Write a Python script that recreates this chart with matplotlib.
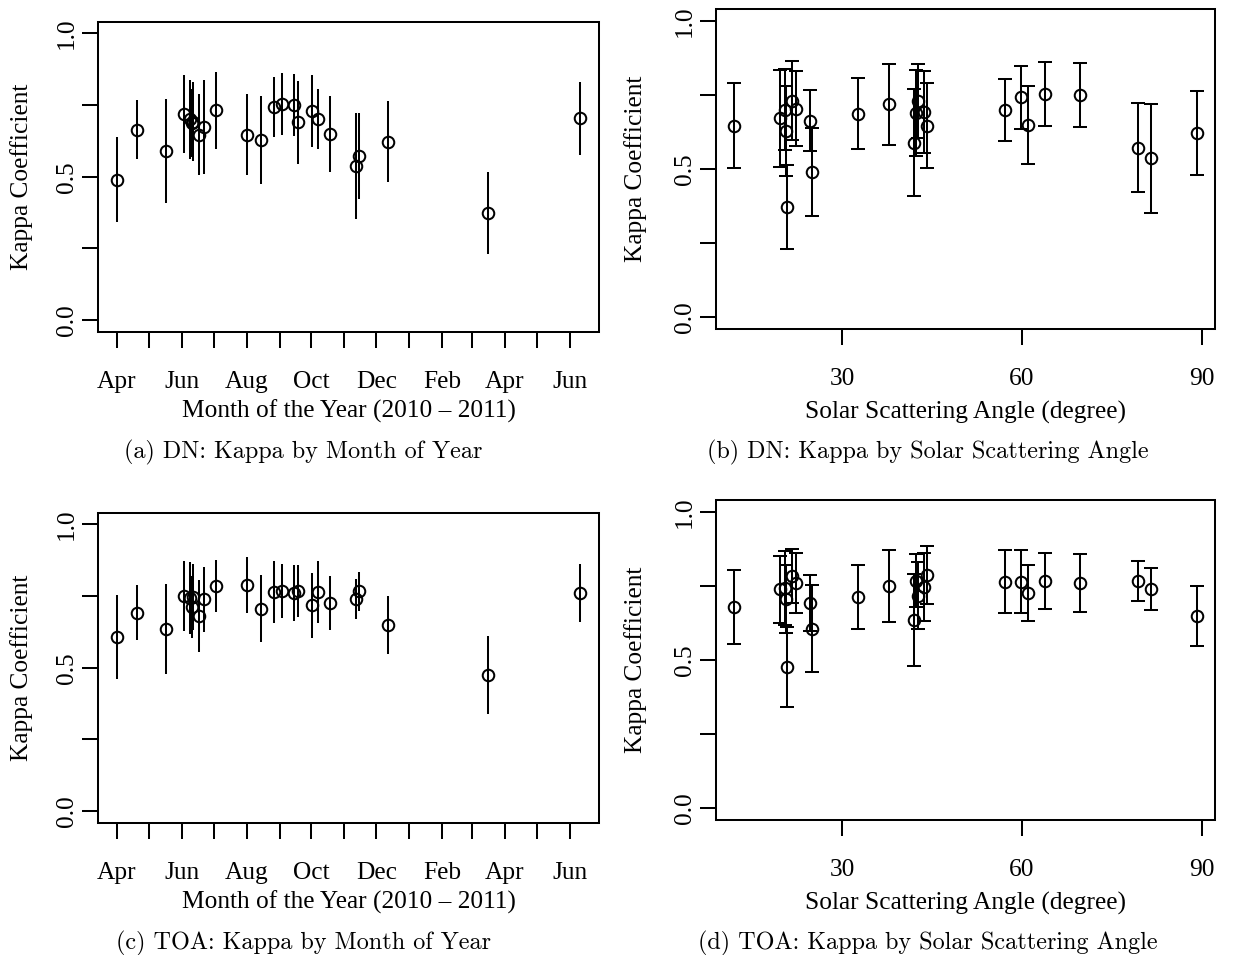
import matplotlib
matplotlib.use("Agg")
import matplotlib.pyplot as plt
import matplotlib.dates as mdates
import numpy as np
from datetime import date

plt.rcParams["font.family"] = ["Liberation Serif", "DejaVu Serif"]

# ---- per-scene kappa statistics (2010 - 2011) ----
scene_dates = ["2010-04-01", "2010-04-20", "2010-05-17", "2010-06-03", "2010-06-09",
               "2010-06-11", "2010-06-12", "2010-06-17", "2010-06-22", "2010-07-03",
               "2010-08-01", "2010-08-15", "2010-08-27", "2010-09-03", "2010-09-15",
               "2010-09-18", "2010-10-02", "2010-10-07", "2010-10-18", "2010-11-12",
               "2010-11-15", "2010-12-12", "2011-03-16", "2011-06-11"]
scatter_angle = [24.94, 24.60, 41.96, 37.79, 20.48, 32.56, 43.69, 11.97, 19.54, 21.54,
                 44.13, 20.60, 59.77, 63.89, 69.73, 42.35, 42.69, 57.16, 61.05, 81.53,
                 79.42, 89.15, 20.76, 22.32]
dn_kappa = [0.490, 0.663, 0.589, 0.719, 0.700, 0.687, 0.692, 0.647, 0.672, 0.731,
            0.647, 0.629, 0.742, 0.753, 0.750, 0.690, 0.730, 0.700, 0.648, 0.537,
            0.572, 0.622, 0.373, 0.704]
dn_ci = [0.148, 0.103, 0.181, 0.137, 0.137, 0.120, 0.138, 0.142, 0.164, 0.134,
         0.142, 0.153, 0.105, 0.107, 0.109, 0.145, 0.125, 0.105, 0.132, 0.184,
         0.150, 0.141, 0.142, 0.127]
toa_kappa = [0.606, 0.692, 0.635, 0.750, 0.742, 0.711, 0.745, 0.680, 0.738, 0.785,
             0.787, 0.706, 0.764, 0.767, 0.761, 0.768, 0.717, 0.764, 0.727, 0.739,
             0.766, 0.649, 0.476, 0.759]
toa_ci = [0.146, 0.095, 0.156, 0.121, 0.125, 0.108, 0.115, 0.125, 0.113, 0.091,
          0.098, 0.116, 0.107, 0.095, 0.098, 0.090, 0.114, 0.107, 0.094, 0.071,
          0.068, 0.102, 0.136, 0.101]

month_labels = ["Apr", "", "Jun", "", "Aug", "", "Oct", "", "Dec", "",
                "Feb", "", "Apr", "", "Jun"]
angle_ticks = [30, 60, 90]
kappa_ticks = [0.0, 0.25, 0.5, 0.75, 1.0]
kappa_labels = ["0.0", "", "0.5", "", "1.0"]

captions = ["(a) DN: Kappa by Month of Year",
            "(b) DN: Kappa by Solar Scattering Angle",
            "(c) TOA: Kappa by Month of Year",
            "(d) TOA: Kappa by Solar Scattering Angle"]

W, H = 1241, 955
fig = plt.figure(figsize=(W / 100, H / 100), dpi=100)

LW = 1.45
FS = 18.3


def add_ax(left, top, right, bottom):
    return fig.add_axes([left / W, 1 - bottom / H, (right - left) / W, (bottom - top) / H])


def style(ax):
    for s in ax.spines.values():
        s.set_linewidth(LW)
    ax.tick_params(direction="out", length=11.5, width=LW, labelsize=FS)
    ax.tick_params(axis="x", pad=16.5)
    ax.tick_params(axis="y", pad=3, labelrotation=90)
    for lab in ax.get_yticklabels():
        lab.set_va("center")
    ax.set_ylim(-0.04, 1.04)
    ax.set_yticks(kappa_ticks)
    ax.set_yticklabels(kappa_labels, va="center")
    ax.set_ylabel("Kappa Coefficient", fontsize=FS)


def pad_range(v):
    lo, hi = min(v), max(v)
    d = 0.04 * (hi - lo)
    return lo - d, hi + d


dnums = mdates.date2num([date.fromisoformat(s) for s in scene_dates])
month_starts = mdates.date2num([date(2010 + (3 + i) // 12, (3 + i) % 12 + 1, 1)
                                for i in range(len(month_labels))])

boxes = {
    "a": (98.3, 21.7, 599.0, 331.7),
    "b": (715.7, 9.0, 1215.3, 329.3),
    "c": (98.3, 512.7, 599.0, 822.7),
    "d": (715.7, 500.0, 1215.3, 820.0),
}
series = {"a": (dn_kappa, dn_ci), "b": (dn_kappa, dn_ci),
          "c": (toa_kappa, toa_ci), "d": (toa_kappa, toa_ci)}

for key in "abcd":
    ax = add_ax(*boxes[key])
    k, ci = series[key]
    if key in "ac":
        x = dnums
        cap = 0
    else:
        x = np.array(scatter_angle)
        cap = 4.8
    ax.errorbar(x, k, yerr=ci, fmt="o", mfc="none", mec="black", ms=8.3, mew=LW,
                ecolor="black", elinewidth=LW, capsize=cap, capthick=LW)
    style(ax)
    ax.set_xlim(*pad_range(x))
    if key in "ac":
        ax.set_xticks(month_starts)
        ax.set_xticklabels(month_labels)
        ax.set_xlabel("Month of the Year (2010 \u2013 2011)", fontsize=FS)
        ax.yaxis.set_label_coords(-0.130, 0.5)
        ax.xaxis.set_label_coords(0.5, -0.220)
    else:
        ax.set_xticks(angle_ticks)
        ax.set_xticklabels([str(t) for t in angle_ticks])
        ax.set_xlabel("Solar Scattering Angle (degree)", fontsize=FS)
        ax.yaxis.set_label_coords(-0.1375, 0.5)
        ax.xaxis.set_label_coords(0.5, -0.225)

# sub-figure captions
cap_pos = [(303, 458), (928, 458), (303, 949), (928, 949)]
for text, (cx, cy) in zip(captions, cap_pos):
    fig.text(cx / W, 1 - cy / H, text, family="cmr10", fontsize=17.4,
             ha="center", va="baseline")

fig.savefig("out.png", dpi=100)
